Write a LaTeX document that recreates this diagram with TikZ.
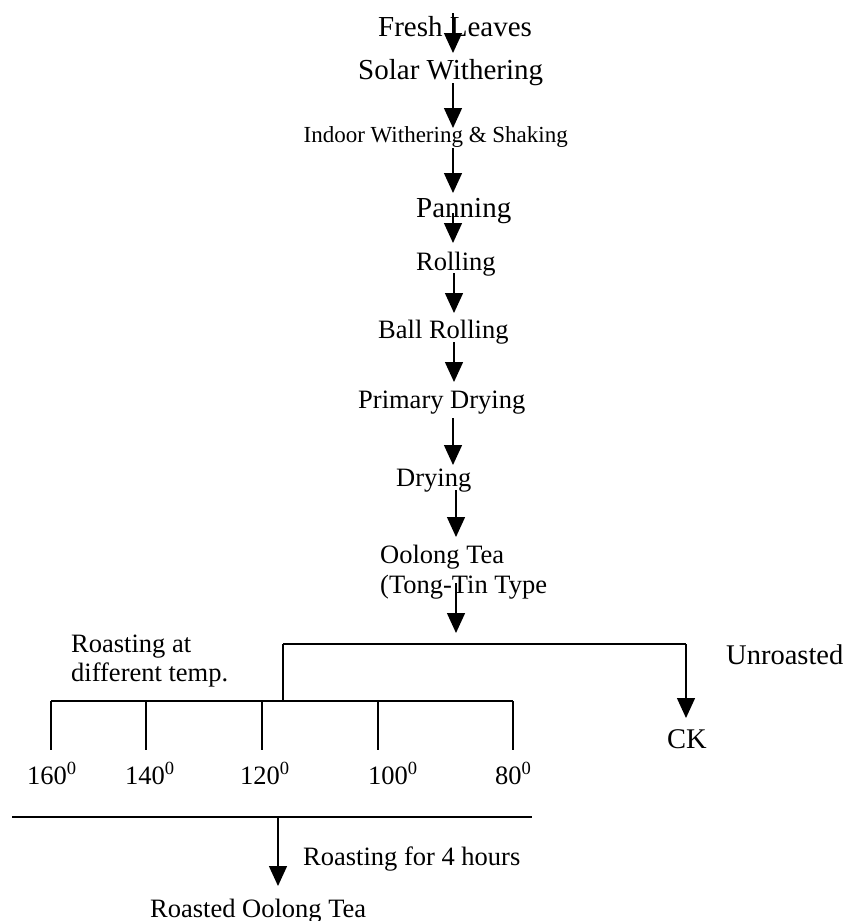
\documentclass[tikz,border=0pt]{standalone}
\usepackage{fontspec}
\setmainfont{Liberation Serif}
\usetikzlibrary{arrows.meta}
\newcommand\ftmain{\fontsize{26.5}{30}\selectfont}
\newcommand\ftbig{\fontsize{29}{32}\selectfont}
\newcommand\ftsmall{\fontsize{23}{26}\selectfont}
\newcommand\ftck{\fontsize{28.5}{32}\selectfont}
\begin{document}
\begin{tikzpicture}[x=1pt,y=-1pt,
  lbl/.style={inner sep=0pt, anchor=base west, font=\ftmain},
  flowarrow/.style={line width=1.4pt, -{Triangle[length=20pt,width=18pt]}},
  plainline/.style={line width=1.4pt}]
\useasboundingbox (0,0) rectangle (846,921);
% main chain labels
\node[lbl, font=\ftbig] (fresh) at (378,36) {Fresh Leaves};
\node[lbl, font=\ftbig] (solar) at (358,79) {Solar Withering};
\node[lbl, font=\ftsmall, anchor=base east] (indoor) at (568,142) {Indoor Withering \& Shaking};
\node[lbl, font=\ftbig] (panning) at (416,217) {Panning};
\node[lbl] (rolling) at (416,270) {Rolling};
\node[lbl] (ball) at (378,338) {Ball Rolling};
\node[lbl] (primary) at (358,408) {Primary Drying};
\node[lbl] (drying) at (396,486) {Drying};
\node[lbl] (oolong) at (380,563) {Oolong Tea};
\node[lbl] (tongtin) at (380,593) {(Tong-Tin Type};
% arrow end points
\coordinate (a1s) at (453,13);  \coordinate (a1e) at (453,53);
\coordinate (a2s) at (453,83);  \coordinate (a2e) at (453,128);
\coordinate (a3s) at (453,148); \coordinate (a3e) at (453,193);
\coordinate (a4s) at (453,213); \coordinate (a4e) at (453,243);
\coordinate (a5s) at (454,273); \coordinate (a5e) at (454,313);
\coordinate (a6s) at (454,342); \coordinate (a6e) at (454,382);
\coordinate (a7s) at (453,418); \coordinate (a7e) at (453,465);
\coordinate (a8s) at (456,490); \coordinate (a8e) at (456,537);
\coordinate (a9s) at (456,583); \coordinate (a9e) at (456,633);
\foreach \i in {1,...,9} {\draw[flowarrow] (a\i s) -- (a\i e);}
% branch
\coordinate (barL) at (283,644);
\coordinate (barR) at (686,644);
\coordinate (ckTip) at (686,718);
\coordinate (joinT) at (283,701);
\coordinate (lowL) at (51,701);
\coordinate (lowR) at (513,701);
\draw[plainline] (barL) -- (barR);
\draw[flowarrow] (barR) -- (ckTip);
\draw[plainline] (barL) -- (joinT);
\draw[plainline] (lowL) -- (lowR);
\node[lbl, font=\ftck] (unroasted) at (726,664) {Unroasted};
\node[lbl, font=\ftck] (ck) at (667,748) {CK};
\node[lbl] (roastat) at (71,652) {Roasting at};
\node[lbl] (difft) at (71,681) {different temp.};
% ticks
\foreach \tx/\nm in {51/t160,146/t140,262/t120,378/t100,513/t80} {
  \coordinate (\nm top) at (\tx,701);
  \coordinate (\nm bot) at (\tx,750);
  \draw[plainline] (\nm top) -- (\nm bot);
}
\node[lbl] (l160) at (27,784) {160\textsuperscript{0}};
\node[lbl] (l140) at (125,784) {140\textsuperscript{0}};
\node[lbl] (l120) at (240,784) {120\textsuperscript{0}};
\node[lbl] (l100) at (368,784) {100\textsuperscript{0}};
\node[lbl] (l80) at (495,784) {80\textsuperscript{0}};
% bottom
\coordinate (botL) at (12,817);
\coordinate (botR) at (532,817);
\coordinate (botS) at (278,817);
\coordinate (botE) at (278,886);
\draw[plainline] (botL) -- (botR);
\draw[flowarrow] (botS) -- (botE);
\node[lbl] (r4h) at (303,865) {Roasting for 4 hours};
\node[lbl] (roasted) at (150,917) {Roasted Oolong Tea};
\end{tikzpicture}
\end{document}
